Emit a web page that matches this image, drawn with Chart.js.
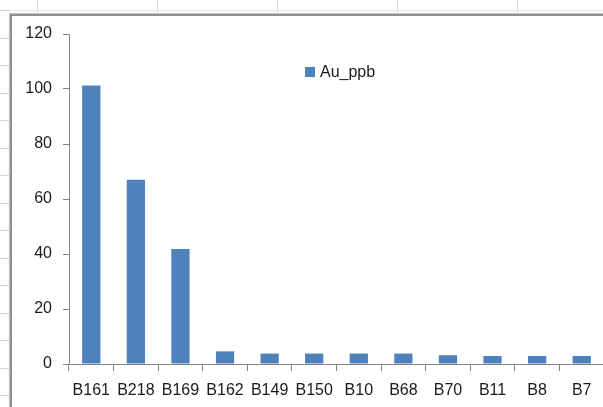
<!DOCTYPE html>
<html>
<head>
<meta charset="utf-8">
<script src="https://cdn.jsdelivr.net/npm/chart.js@4/dist/chart.umd.min.js"></script>
<style>
  html, body { margin: 0; padding: 0; }
  body {
    width: 603px; height: 407px; overflow: hidden; position: relative;
    background: #fff;
  }
  /* spreadsheet cells behind the chart */
  .sheetTop {
    position: absolute; left: 0; top: 10px; width: 603px; height: 1px; background: #dfe3ea;
  }
  .sheetCols {
    position: absolute; left: 0; top: 0; width: 603px; height: 14px;
    background: repeating-linear-gradient(to right, transparent 0 37px, #d4d8e0 37px 38px, transparent 38px 120px);
  }
  .sheetRows {
    position: absolute; left: 0; top: 0; width: 10px; height: 407px;
    background: repeating-linear-gradient(to bottom, transparent 0 10.5px, #cfd4dd 10.5px 11.5px, transparent 11.5px 27.5px);
  }
  .frame {
    position: absolute; left: 10px; top: 14px; width: 620px; height: 420px;
    border-left: 2px solid #8e8e8e; border-top: 2px solid #8e8e8e;
    background: #fff;
    box-shadow: -1px -1px 1px #c8c8c8;
  }
  #chart { position: absolute; left: 0; top: 0; }
  #legend {
    position: absolute; left: 293px; top: 47px;
    font-family: "Liberation Sans"; font-size: 16px; color: #1a1a1a;
    display: flex; align-items: center; white-space: nowrap;
  }
  #legend .box { width: 10px; height: 10px; margin-right: 5px; }
</style>
</head>
<body>
<div class="sheetTop"></div>
<div class="sheetCols"></div>
<div class="sheetRows"></div>
<div class="frame">
  <canvas id="chart" width="600" height="391"></canvas>
  <div id="legend"></div>
</div>
<script>
  // Dados
  const samples = ["B161", "B218", "B169", "B162", "B149", "B150", "B10", "B68", "B70", "B11", "B8", "B7"]
  const auPpb = [101.3, 67, 41.8, 4.6, 3.8, 3.8, 3.8, 3.8, 3.2, 2.9, 2.9, 2.9]
  const yTicks = [0, 20, 40, 60, 80, 100, 120]

  const axisColor = "#868686"
  const textColor = "#1a1a1a"
  const font = { family: "Liberation Sans", size: 16 }

  const ctx = document.getElementById("chart").getContext("2d")
  window.myBar = new Chart(ctx, {
    type: "bar",
    data: {
      labels: samples,
      datasets: [
        {
          label: "Au_ppb",
          data: auPpb,
          backgroundColor: "#4f81bd",
          borderWidth: 0,
          categoryPercentage: 1,
          barPercentage: 0.41,
        },
      ],
    },
    options: {
      responsive: false,
      animation: false,
      devicePixelRatio: 1,
      layout: { padding: { top: 18, right: 8, left: 0, bottom: 0 } },
      plugins: {
        legend: { display: false },
        tooltip: { enabled: false },
      },
      scales: {
        y: {
          min: 0,
          max: 120,
          afterBuildTicks: (scale) => {
            scale.ticks = yTicks.map((v) => ({ value: v }))
          },
          afterFit: (scale) => {
            scale.width = 57
            scale.paddingTop = 0
          },
          border: { display: true, color: axisColor, width: 1 },
          grid: { drawOnChartArea: false, color: axisColor, tickLength: 6 },
          ticks: { color: textColor, font: { family: "Liberation Sans", size: 16, lineHeight: 1 }, padding: 11 },
        },
        x: {
          offset: true,
          afterFit: (scale) => {
            scale.height = 43
          },
          border: { display: true, color: axisColor, width: 1 },
          grid: { offset: true, drawOnChartArea: false, color: axisColor, tickLength: 7 },
          ticks: { color: textColor, font: font, padding: 10, maxRotation: 0, autoSkip: false },
        },
      },
    },
  })

  // Legenda em HTML dentro da área do gráfico
  const legend = document.getElementById("legend")
  window.myBar.data.datasets.forEach((ds) => {
    legend.innerHTML += `<span class="box" style="background:${ds.backgroundColor}"></span><span>${ds.label}</span>`
  })
</script>
</body>
</html>
